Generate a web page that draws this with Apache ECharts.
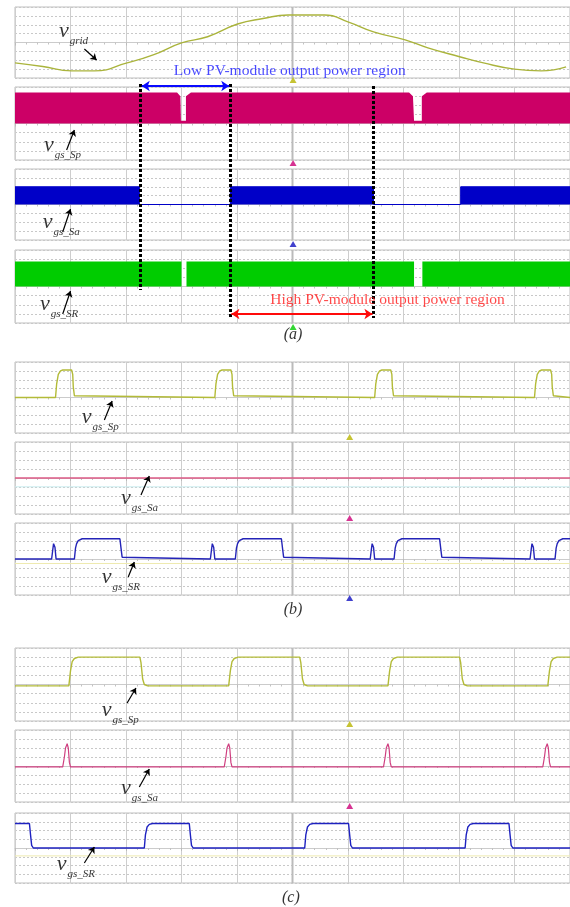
<!DOCTYPE html>
<html><head><meta charset="utf-8">
<script src="https://cdn.jsdelivr.net/npm/echarts@6/dist/echarts.min.js"></script>
<style>html,body{margin:0;padding:0;background:#fff}#c{width:570px;height:907px}</style>
</head><body><div id="c"></div>
<script>
// ---------- DATA (time in scope divisions, amplitude in vertical divisions) ----------
// (a) line-cycle view
const aGrid = [[0,-2.3],[0.5,-2.7],[1.02,-3.2],[1.43,-3.2],[2.02,-2.3],[2.49,-1.4],[3.0,-0.05],[3.47,0.65],[4.01,2.08],[4.47,2.7],[4.92,3.1],[5.58,3.1],[6.01,2.3],[6.46,1.2],[7.03,0.3],[7.44,-0.6],[8.01,-1.6],[8.44,-2.3],[9.0,-3.0],[9.48,-3.2],[9.93,-2.75]];
const aSp = [[0,3.4],[2.92,3.4],[2.98,3.0],[2.99,3.0],[2.99,0.3],[3.08,0.3],[3.08,3.0],[3.11,3.0],[3.17,3.4],[7.10,3.4],[7.17,3.0],[7.19,3.0],[7.19,0.3],[7.33,0.3],[7.33,3.0],[7.36,3.0],[7.42,3.4],[10,3.4]];
const aSa = [[0,2],[2.24,2],[2.24,0],[3.88,0],[3.88,2],[6.46,2],[6.46,0],[8.03,0],[8.03,2],[10,2]];
const aSR = [[0,2.75],[3.0,2.75],[3.0,0],[3.09,0],[3.09,2.75],[7.19,2.75],[7.19,0],[7.34,0],[7.34,2.75],[10,2.75]];
// (b) switching-period view, low power
const bSp = [[0,0],
 [0.73,0],[0.75,1.5],[0.78,2.6],[0.82,3.0],[0.86,3.1],[1.02,3.1],[1.04,2.6],[1.05,1.2],[1.07,0.2],[1.09,0],
 [3.60,0],[3.62,1.5],[3.65,2.6],[3.69,3.0],[3.73,3.1],[3.89,3.1],[3.91,2.6],[3.92,1.2],[3.94,0.2],[3.96,0],
 [6.48,0],[6.50,1.5],[6.53,2.6],[6.57,3.0],[6.61,3.1],[6.77,3.1],[6.79,2.6],[6.80,1.2],[6.82,0.2],[6.84,0],
 [9.36,0],[9.38,1.5],[9.41,2.6],[9.45,3.0],[9.49,3.1],[9.65,3.1],[9.67,2.6],[9.68,1.2],[9.70,0.2],[9.72,0],[10,0]];
const bSa = [[0,0],[10,0]];
const bSaRef = [[0,-0.98],[10,-0.98]];
const bSR = [[0,0],
 [0.66,0],[0.68,1.0],[0.695,1.7],[0.705,1.83],[0.72,1.3],[0.74,0],
 [1.07,0],[1.09,1.2],[1.11,1.7],[1.14,2.05],[1.17,2.2],[1.21,2.25],[1.89,2.25],[1.91,1.2],[1.93,0.2],[1.95,0],
 [3.52,0],[3.54,1.0],[3.555,1.7],[3.565,1.83],[3.58,1.3],[3.60,0],
 [3.97,0],[3.99,1.2],[4.01,1.7],[4.04,2.05],[4.07,2.2],[4.11,2.25],[4.80,2.25],[4.82,1.2],[4.84,0.2],[4.86,0],
 [6.40,0],[6.42,1.0],[6.435,1.7],[6.445,1.83],[6.46,1.3],[6.48,0],
 [6.83,0],[6.85,1.2],[6.87,1.7],[6.90,2.05],[6.93,2.2],[6.97,2.25],[7.65,2.25],[7.67,1.2],[7.69,0.2],[7.71,0],
 [9.28,0],[9.30,1.0],[9.315,1.7],[9.325,1.83],[9.34,1.3],[9.36,0],
 [9.73,0],[9.75,1.2],[9.77,1.7],[9.80,2.05],[9.83,2.2],[9.87,2.25],[10,2.25]];
const bSRRef = [[0,-0.5],[10,-0.5]];
// (c) switching-period view, high power
const cSp = [[0,-0.15],
 [0.97,-0.15],[1.00,1.5],[1.03,2.5],[1.07,2.85],[1.14,3.0],[2.25,3.0],[2.27,2.4],[2.30,0.6],[2.33,0],[2.39,-0.15],
 [3.85,-0.15],[3.88,1.5],[3.91,2.5],[3.95,2.85],[4.02,3.0],[5.13,3.0],[5.15,2.4],[5.18,0.6],[5.21,0],[5.27,-0.15],
 [6.72,-0.15],[6.75,1.5],[6.78,2.5],[6.82,2.85],[6.89,3.0],[8.01,3.0],[8.03,2.4],[8.06,0.6],[8.09,0],[8.15,-0.15],
 [9.60,-0.15],[9.63,1.5],[9.66,2.5],[9.70,2.85],[9.77,3.0],[10,3.0]];
const cSa = [[0,-0.1],
 [0.86,-0.1],[0.89,1.0],[0.91,2.0],[0.94,2.47],[0.96,2.0],[0.98,0.4],[1.00,-0.1],
 [3.77,-0.1],[3.80,1.0],[3.82,2.0],[3.85,2.47],[3.87,2.0],[3.89,0.4],[3.91,-0.1],
 [6.64,-0.1],[6.67,1.0],[6.69,2.0],[6.72,2.47],[6.74,2.0],[6.76,0.4],[6.78,-0.1],
 [9.51,-0.1],[9.54,1.0],[9.56,2.0],[9.59,2.47],[9.61,2.0],[9.63,0.4],[9.65,-0.1],[10,-0.1]];
const cSR = [[0,2.8],[0.26,2.8],[0.28,1.5],[0.30,0.3],[0.33,0],
 [2.33,0],[2.35,1.5],[2.38,2.4],[2.42,2.7],[2.48,2.8],[3.14,2.8],[3.16,1.5],[3.18,0.3],[3.21,0],
 [5.22,0],[5.24,1.5],[5.27,2.4],[5.31,2.7],[5.37,2.8],[6.01,2.8],[6.03,1.5],[6.05,0.3],[6.08,0],
 [8.11,0],[8.13,1.5],[8.16,2.4],[8.20,2.7],[8.26,2.8],[8.90,2.8],[8.92,1.5],[8.94,0.3],[8.97,0],[10,0]];
const cSRRef = [[0,-0.9],[10,-0.9]];
// region boundaries (divisions)
const regionBounds = [2.254, 3.88, 6.46];
const panelCaptions = ['(a)', '(b)', '(c)'];
const regionTexts = ['Low PV-module output power region', 'High PV-module output power region'];
const signalNames = [['v','grid'],['v','gs_Sp'],['v','gs_Sa'],['v','gs_SR']];

// ---------- LAYOUT ----------
const C = {yel:'#b3bb38', mag:'#cc0066', blu:'#0000c8', grn:'#00cc00'};
const layout = [
 {top:7,h:71},{top:87,h:73},{top:169,h:71},{top:250,h:73},
 {top:362,h:71},{top:442,h:72},{top:523,h:72},
 {top:648,h:73},{top:730,h:72},{top:813,h:70}];
const grids=[], xAxes=[], yAxes=[], series=[];
layout.forEach((p,i)=>{
  grids.push({left:15, width:559, top:p.top, height:p.h, show:true, borderColor:'#bfbfbf', borderWidth:1, backgroundColor:'#fff'});
  xAxes.push({gridIndex:i, type:'value', min:0, max:10, interval:1,
    axisLabel:{show:false},
    axisLine:{show:true, onZero:true, lineStyle:{color:'#cbcbcb', width:1}},
    axisTick:{show:true, length:3, lineStyle:{color:'#bbbbbb'}},
    minorTick:{show:true, splitNumber:5, length:2, lineStyle:{color:'#c2c2c2'}},
    splitLine:{show:true, lineStyle:{color:'#cecece', width:1}}});
  yAxes.push({gridIndex:i, type:'value', min:-4, max:4, interval:1,
    axisLabel:{show:false}, axisLine:{show:false}, axisTick:{show:false},
    splitLine:{show:true, lineStyle:{color:'#c8c8c8', type:[2,2], width:1}}});
  series.push({type:'line', xAxisIndex:i, yAxisIndex:i, data:[[5,-4],[5,4]], symbol:'none', silent:true, z:1,
    lineStyle:{color:'#bbbbbb', width:2}});
});
function wave(i, data, color, opt){
  series.push(Object.assign({type:'line', xAxisIndex:i, yAxisIndex:i, data:data, symbol:'none', silent:true, z:3,
    lineStyle:{color:color, width:1.4}}, opt||{}));
}
function band(i, data, color, lw){
  wave(i, data, color, {lineStyle:{color:color, width:lw}, areaStyle:{color:color, opacity:1}});
}
wave(0, aGrid, '#aab43c', {smooth:0.5, lineStyle:{color:'#aab43c', width:1.4}});
band(1, aSp, C.mag, 0);
band(2, aSa, C.blu, 1);
band(3, aSR, C.grn, 0);
wave(4, bSp, C.yel);
wave(5, bSaRef, '#c9ecef', {lineStyle:{color:'#c9ecef', width:1}});
wave(5, bSa, '#dd5a86');
wave(6, bSRRef, '#eeeab0', {lineStyle:{color:'#eeeab0', width:1}});
wave(6, bSR, '#2424b8');
wave(7, cSp, C.yel);
wave(8, cSa, '#cf3f80', {lineStyle:{color:'#cf3f80', width:1.2}});
wave(9, cSRRef, '#eeeab0', {lineStyle:{color:'#eeeab0', width:1}});
wave(9, cSR, '#1e22c0');

// overlay grid in page rows for annotations
const O = layout.length;
grids.push({left:15, width:559, top:0, height:907, show:false});
xAxes.push({gridIndex:O, type:'value', min:0, max:10, show:false});
yAxes.push({gridIndex:O, type:'value', min:0, max:907, inverse:true, show:false});
const ov = {xAxisIndex:O, yAxisIndex:O, silent:true, z:20};
series.push(Object.assign({type:'lines', coordinateSystem:'cartesian2d', polyline:false, symbol:'none',
  lineStyle:{color:'#000', width:3, type:[3,2], opacity:1},
  data:[{coords:[[regionBounds[0],84],[regionBounds[0],290]]},{coords:[[regionBounds[1],84],[regionBounds[1],318]]},{coords:[[regionBounds[2],86],[regionBounds[2],318]]}]}, ov));
series.push(Object.assign({type:'lines', coordinateSystem:'cartesian2d', symbol:['arrow','arrow'], symbolSize:8,
  lineStyle:{color:'#0a0aff', width:2, opacity:1}, data:[{coords:[[regionBounds[0]+0.03,86],[regionBounds[1]-0.02,86]]}]}, ov));
series.push(Object.assign({type:'lines', coordinateSystem:'cartesian2d', symbol:['arrow','arrow'], symbolSize:8,
  lineStyle:{color:'#ff0a0a', width:2, opacity:1}, data:[{coords:[[regionBounds[1]+0.02,314],[regionBounds[2]-0.02,314]]}]}, ov));
// pointer arrows
const ptr = [[[1.25,49],[1.47,60]],[[0.93,150],[1.07,130]],[[0.86,232],[1.0,209]],[[0.86,314],[1.0,291]],
  [[1.61,420],[1.75,401]],[[2.27,495],[2.42,476]],[[2.04,577],[2.15,562]],
  [[2.02,703],[2.18,688]],[[2.24,787],[2.42,769]],[[1.25,863],[1.43,847]]];
series.push(Object.assign({type:'lines', coordinateSystem:'cartesian2d', symbol:['none','arrow'], symbolSize:6,
  lineStyle:{color:'#000', width:1.2, opacity:1}, data:ptr.map(c=>({coords:c}))}, ov));
// signal name labels
const nameAt = [[0.79,31,0],[0.52,145,1],[0.50,222,2],[0.45,304,3],[1.20,417,1],[1.91,498,2],[1.56,577,3],[1.56,710,1],[1.91,788,2],[0.75,864,3]];
const rich = {v:{fontFamily:'Liberation Serif', fontStyle:'italic', fontSize:22, color:'#000', lineHeight:32, verticalAlign:'middle'},
  s:{fontFamily:'Liberation Serif', fontStyle:'italic', fontSize:11, color:'#000', lineHeight:12, verticalAlign:'bottom', padding:[0,0,0,1]}};
series.push(Object.assign({type:'scatter', symbolSize:0.1, itemStyle:{color:'rgba(0,0,0,0)'},
  data:nameAt.map(n=>({value:[n[0],n[1]], label:{show:true, position:'right', distance:0,
    formatter:'{v|'+signalNames[n[2]][0]+'}{s|'+signalNames[n[2]][1]+'}', rich:rich}}))}, ov));
// region texts and captions
const txt = (x,y,t,color,pos,style,fs)=>({value:[x,y], label:{show:true, position:pos, distance:0, formatter:t,
  fontFamily:'Liberation Serif', fontSize:fs||15.5, fontStyle:style||'normal', color:color}});
series.push(Object.assign({type:'scatter', symbolSize:0.1, itemStyle:{color:'rgba(0,0,0,0)'},
  data:[txt(2.86,71,regionTexts[0],'#1a1aff','right'), txt(4.60,300,regionTexts[1],'#ff1a1a','right'),
    txt(5.01,335,panelCaptions[0],'#000','inside','italic',16), txt(5.01,610,panelCaptions[1],'#000','inside','italic',16),
    txt(4.97,898,panelCaptions[2],'#000','inside','italic',16)]}, ov));
// trigger / reference triangles
const tri = (x,y,c)=>({value:[x,y], itemStyle:{color:c}});
series.push(Object.assign({type:'scatter', symbol:'triangle', symbolSize:[7,6],
  data:[tri(5.01,80,'#b8b400'),tri(5.01,163,'#cc0077'),tri(5.01,244,'#1010c0'),tri(5.01,327,'#00cc00'),
    tri(6.03,437,'#b8b400'),tri(6.03,518,'#cc0077'),tri(6.03,598,'#1010c0'),
    tri(6.03,724,'#b8b400'),tri(6.03,806,'#cc0077')]}, ov));

const chart = echarts.init(document.getElementById('c'));
chart.setOption({animation:false, backgroundColor:'#fff', grid:grids, xAxis:xAxes, yAxis:yAxes, series:series});
</script></body></html>
